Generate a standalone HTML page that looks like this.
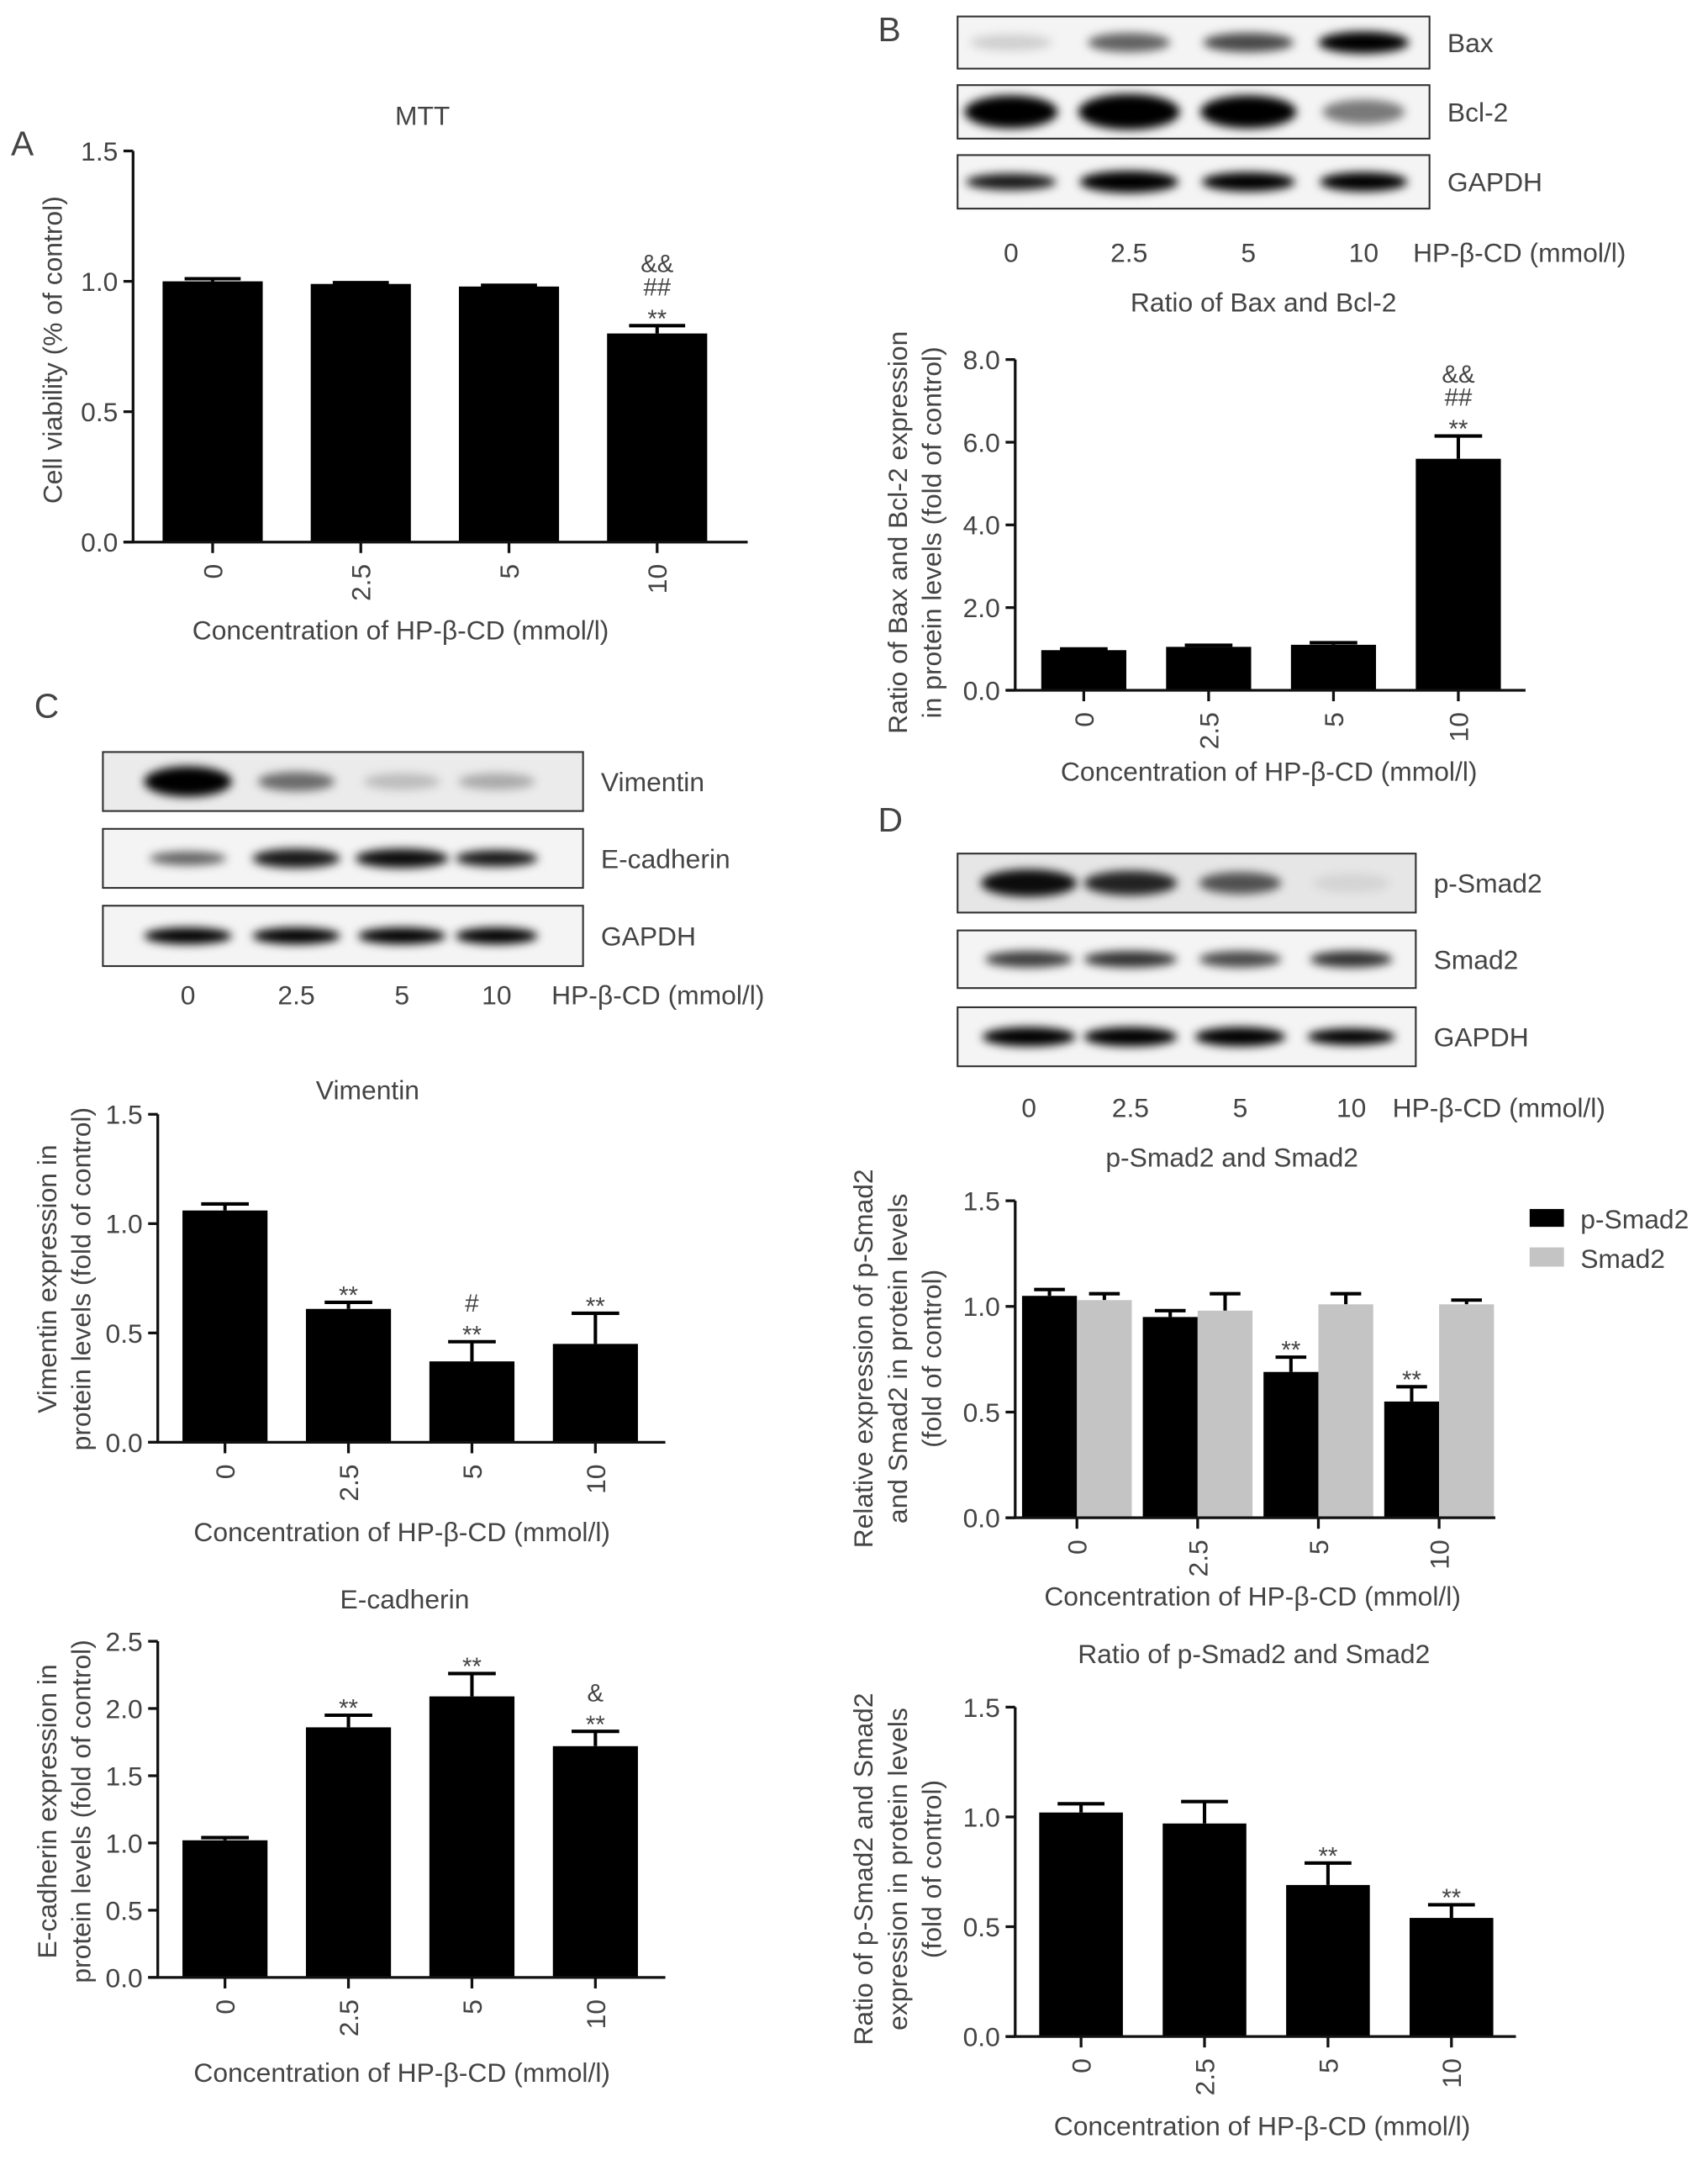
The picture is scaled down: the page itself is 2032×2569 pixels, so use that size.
<!DOCTYPE html>
<html><head><meta charset="utf-8">
<style>
html,body{margin:0;padding:0;background:#fff;}
svg{display:block;}
text{font-family:"Liberation Sans",sans-serif;fill:#444;}
</style></head>
<body>
<svg id="fig" width="2032" height="2569" viewBox="0 0 1245 1574" xmlns="http://www.w3.org/2000/svg">
<defs>
<filter id="blur" x="-20%" y="-100%" width="140%" height="300%"><feGaussianBlur stdDeviation="3.5"/></filter>
</defs>
<g id="static"></g>
<g id="charts"></g>
</svg>
<script>
// ---------- Chart data ----------
const categories = ["0","2.5","5","10"];
const mttValues = [1.0, 0.99, 0.98, 0.80];
const mttErrors = [0.01, 0.005, 0.005, 0.03];
const mttTicks = [0.0, 0.5, 1.0, 1.5];
const mttAnnot = ["", "", "", "&&|##|**"];

const baxValues = [0.97, 1.05, 1.10, 5.60];
const baxErrors = [0.03, 0.04, 0.05, 0.55];
const baxTicks = [0.0, 2.0, 4.0, 6.0, 8.0];
const baxAnnot = ["", "", "", "&&|##|**"];

const vimValues = [1.06, 0.61, 0.37, 0.45];
const vimErrors = [0.03, 0.03, 0.09, 0.14];
const vimTicks = [0.0, 0.5, 1.0, 1.5];
const vimAnnot = ["", "**", "#|**", "**"];

const ecadValues = [1.02, 1.86, 2.09, 1.72];
const ecadErrors = [0.02, 0.09, 0.17, 0.11];
const ecadTicks = [0.0, 0.5, 1.0, 1.5, 2.0, 2.5];
const ecadAnnot = ["", "**", "**", "&|**"];

const pSmadValues = [1.05, 0.95, 0.69, 0.55];
const pSmadErrors = [0.03, 0.03, 0.07, 0.07];
const smadValues = [1.03, 0.98, 1.01, 1.01];
const smadErrors = [0.03, 0.08, 0.05, 0.02];
const smadTicks = [0.0, 0.5, 1.0, 1.5];
const pSmadAnnot = ["", "", "**", "**"];

const ratioValues = [1.02, 0.97, 0.69, 0.54];
const ratioErrors = [0.04, 0.10, 0.10, 0.06];
const ratioTicks = [0.0, 0.5, 1.0, 1.5];
const ratioAnnot = ["", "", "**", "**"];

const FS = 19.5;
const NS = "http://www.w3.org/2000/svg";
function el(parent, tag, attrs, txt){
  const e = document.createElementNS(NS, tag);
  for (const k in attrs) e.setAttribute(k, attrs[k]);
  if (txt !== undefined) e.textContent = txt;
  parent.appendChild(e);
  return e;
}
const st = document.getElementById('static');
const ch = document.getElementById('charts');

[["A",8,113],["B",640,30],["C",25,523],["D",640,606]].forEach(p=>{
  const t = el(st,'text',{x:p[1],y:p[2],'font-size':25},p[0]);
  
  
});

// ---------- blots ----------
function blot(name, x0, x1, rows, laneX, laneY, hpX){
  const g = el(st,'g',{});
  
  
  rows.forEach(r=>{
    el(g,'rect',{x:x0,y:r.y0,width:x1-x0,height:r.y1-r.y0,fill:r.bg||'#f4f4f4',stroke:'#333','stroke-width':1.3});
    const cy=(r.y0+r.y1)/2;
    r.bands.forEach((b,i)=>{
      el(g,'ellipse',{cx:laneX[i],cy:cy,rx:b[0],ry:b[1],fill:'#000','fill-opacity':b[2],filter:'url(#blur)'});
    });
    el(g,'text',{x:x1+13,y:cy+7,'font-size':FS},r.label);
  });
  laneX.forEach((lx,i)=>{ el(g,'text',{x:lx,y:laneY,'font-size':FS,'text-anchor':'middle'},categories[i]); });
  el(g,'text',{x:hpX,y:laneY,'font-size':FS},'HP-β-CD (mmol/l)');
}
blot('blot-b',698,1042,[
  {y0:12,y1:50,label:'Bax',bands:[[30,6,0.15],[30,7,0.6],[33,7,0.7],[33,8,1]]},
  {y0:62,y1:101,label:'Bcl-2',bands:[[34,12,1],[37,13,1],[35,12,1],[30,9,0.5]]},
  {y0:113,y1:152,label:'GAPDH',bands:[[33,6,0.9],[36,8,1],[34,7,1],[32,7,1]]}
],[737,823,910,994],191,1030);
blot('blot-c',75,425,[
  {y0:548,y1:591,label:'Vimentin',bg:'#ebebeb',bands:[[32,11,1],[28,7,0.55],[28,6,0.2],[28,6,0.28]]},
  {y0:604,y1:647,label:'E-cadherin',bands:[[28,5,0.6],[32,7,0.9],[34,7,0.95],[30,6,0.9]]},
  {y0:660,y1:704,label:'GAPDH',bands:[[32,6,1],[32,6,1],[32,6,1],[30,6,1]]}
],[137,216,293,362],732,402);
blot('blot-d',698,1032,[
  {y0:622,y1:665,label:'p-Smad2',bg:'#e6e6e6',bands:[[35,10,0.95],[34,9,0.85],[30,8,0.65],[28,7,0.08]]},
  {y0:678,y1:720,label:'Smad2',bands:[[32,6,0.75],[34,6,0.8],[30,6,0.7],[30,6,0.8]]},
  {y0:734,y1:777,label:'GAPDH',bands:[[34,7,1],[34,7,1],[33,7,1],[32,6,1]]}
],[750,824,904,985],814,1015);

// ---------- bar charts ----------
function fmt(v){ return v.toFixed(1); }
function barChart(cfg){
  const g = el(ch,'g',{});
  
  
  const tmax = cfg.ticks[cfg.ticks.length-1];
  const yS = v => cfg.y0 + (cfg.yTop - cfg.y0) * v / tmax;
  const n = categories.length;
  const xC = i => cfg.xFirst + i*cfg.step;
  const ti = el(g,'text',{x:cfg.titleX,y:cfg.titleY,'font-size':FS,'text-anchor':'middle'},cfg.title);
  
  
  const series = cfg.series;
  series.forEach((s,si)=>{
    s.values.forEach((v,i)=>{
      const cx = xC(i) + (series.length>1 ? (si===0?-cfg.bw/2:cfg.bw/2) : 0);
      const top = yS(v), bot = yS(0);
      const errTop = yS(v + s.errors[i]);
      const eb = el(g,'path',{d:'M'+cx+' '+top+'V'+errTop+'M'+(cx-cfg.bw*0.28)+' '+errTop+'H'+(cx+cfg.bw*0.28),stroke:'#000','stroke-width':2.5,fill:'none'});
      
      
      const r = el(g,'rect',{x:cx-cfg.bw/2,y:top,width:cfg.bw,height:bot-top,fill:s.color});
      
      
      const a = (s.annot||[])[i];
      if (a){
        const lines = a.split('|');
        lines.forEach((ln,li)=>{
          const yy = errTop - 5 - (lines.length-1-li)*17;
          const at = el(g,'text',{x:cx,y:ln==='**'?yy+6:yy,'font-size':18,'text-anchor':'middle',fill:'#666'},ln);
          
          
        });
      }
    });
  });
  const ya = el(g,'path',{d:'M'+cfg.x0+' '+yS(tmax)+'V'+cfg.y0+'M'+(cfg.x0-7)+' '+cfg.y0+'H'+cfg.xEnd,stroke:'#111','stroke-width':2,fill:'none'});
  
  
  cfg.ticks.forEach(t=>{
    el(g,'line',{x1:cfg.x0-7,x2:cfg.x0,y1:yS(t),y2:yS(t),stroke:'#111','stroke-width':2});
    const tl = el(g,'text',{x:cfg.x0-11,y:yS(t)+7,'font-size':FS,'text-anchor':'end'},fmt(t));
    
    
  });
  for (let i=0;i<n;i++){
    el(g,'line',{x1:xC(i),x2:xC(i),y1:cfg.y0,y2:cfg.y0+8,stroke:'#111','stroke-width':2});
    const lx = xC(i)+7, ly = cfg.y0+16;
    const tl = el(g,'text',{x:lx,y:ly,'font-size':FS,'text-anchor':'end',transform:'rotate(-90 '+lx+' '+ly+')'},categories[i]);
    
    
  }
  const xl = el(g,'text',{x:cfg.xlabX,y:cfg.xlabY,'font-size':FS,'text-anchor':'middle'},'Concentration of HP-β-CD (mmol/l)');
  
  
  cfg.ylab.forEach((s,k)=>{
    const lx = cfg.ylabX + k*25, ly = cfg.ylabY;
    const yl = el(g,'text',{x:lx,y:ly,'font-size':FS,'text-anchor':'middle',transform:'rotate(-90 '+lx+' '+ly+')'},s);
    
    
  });
}

barChart({name:'mtt-chart',title:'MTT',titleX:308,titleY:91,ticks:mttTicks,x0:97,xEnd:545,y0:395,yTop:110,
  xFirst:155,step:108,bw:73,series:[{key:'mtt',values:mttValues,errors:mttErrors,color:'#000',annot:mttAnnot}],
  xlabX:292,xlabY:466,ylab:['Cell viability (% of control)'],ylabX:45,ylabY:255});
barChart({name:'bax-bcl2-ratio-chart',title:'Ratio of Bax and Bcl-2',titleX:921,titleY:227,ticks:baxTicks,x0:740,xEnd:1112,y0:503,yTop:262,
  xFirst:790,step:91,bw:62,series:[{key:'ratio',values:baxValues,errors:baxErrors,color:'#000',annot:baxAnnot}],
  xlabX:925,xlabY:569,ylab:['Ratio of Bax and Bcl-2 expression','in protein levels (fold of control)'],ylabX:661,ylabY:388});
barChart({name:'vimentin-chart',title:'Vimentin',titleX:268,titleY:801,ticks:vimTicks,x0:115,xEnd:485,y0:1051,yTop:812,
  xFirst:164,step:90,bw:62,series:[{key:'vimentin',values:vimValues,errors:vimErrors,color:'#000',annot:vimAnnot}],
  xlabX:293,xlabY:1123,ylab:['Vimentin expression in','protein levels (fold of control)'],ylabX:41,ylabY:932});
barChart({name:'ecadherin-chart',title:'E-cadherin',titleX:295,titleY:1172,ticks:ecadTicks,x0:115,xEnd:485,y0:1441,yTop:1196,
  xFirst:164,step:90,bw:62,series:[{key:'ecadherin',values:ecadValues,errors:ecadErrors,color:'#000',annot:ecadAnnot}],
  xlabX:293,xlabY:1517,ylab:['E-cadherin expression in','protein levels (fold of control)'],ylabX:41,ylabY:1320});
barChart({name:'smad-grouped-chart',title:'p-Smad2 and Smad2',titleX:898,titleY:850,ticks:smadTicks,x0:740,xEnd:1090,y0:1106,yTop:875,
  xFirst:785,step:88,bw:40,series:[
    {key:'p-smad2',values:pSmadValues,errors:pSmadErrors,color:'#000',annot:pSmadAnnot},
    {key:'smad2',values:smadValues,errors:smadErrors,color:'#c4c4c4'}],
  xlabX:913,xlabY:1170,ylab:['Relative expression of p-Smad2','and Smad2 in protein levels','(fold of control)'],ylabX:636,ylabY:990});
barChart({name:'psmad-smad-ratio-chart',title:'Ratio of p-Smad2 and Smad2',titleX:914,titleY:1212,ticks:ratioTicks,x0:740,xEnd:1105,y0:1484,yTop:1244,
  xFirst:788,step:90,bw:61,series:[{key:'ratio',values:ratioValues,errors:ratioErrors,color:'#000',annot:ratioAnnot}],
  xlabX:920,xlabY:1556,ylab:['Ratio of p-Smad2 and Smad2','expression in protein levels','(fold of control)'],ylabX:636,ylabY:1362});

const lg = el(ch,'g',{});


el(lg,'rect',{x:1115,y:881,width:25,height:13,fill:'#000'});
el(lg,'text',{x:1152,y:895,'font-size':FS},'p-Smad2');
el(lg,'rect',{x:1115,y:909,width:25,height:14,fill:'#c4c4c4'});
el(lg,'text',{x:1152,y:924,'font-size':FS},'Smad2');
</script>
</body></html>
